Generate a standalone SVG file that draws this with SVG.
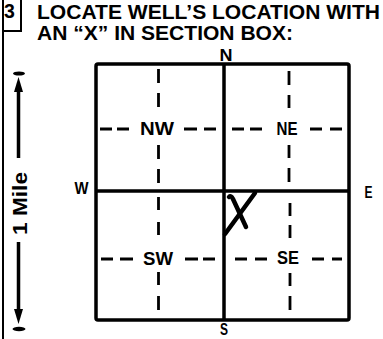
<svg xmlns="http://www.w3.org/2000/svg" width="383" height="339" viewBox="0 0 383 339">
  <style>
    .hdr { font-family: "Liberation Sans", Arial, sans-serif; font-weight: bold; font-size: 19.5px; fill: #000; }
    .quad { font-family: "Liberation Sans", Arial, sans-serif; font-weight: bold; font-size: 18px; fill: #000; text-anchor: middle; }
    .dir { font-family: "Liberation Sans", Arial, sans-serif; font-weight: bold; font-size: 16px; fill: #000; text-anchor: middle; }
    .frame { fill: none; stroke: #000; stroke-width: 3.5; stroke-linejoin: round; }
    .thin { fill: none; stroke: #000; stroke-width: 2; }
    .dash { fill: none; stroke: #000; stroke-width: 2.8; stroke-linecap: butt; }
  </style>
  <rect width="383" height="339" fill="#fff"/>

  <g id="header">
    <path class="thin" d="M3,0 V339 M21,0 V31 H3"/>
    <text class="hdr" x="4" y="18">3</text>
    <text class="hdr" x="37" y="19" textLength="343" lengthAdjust="spacingAndGlyphs">LOCATE WELL’S LOCATION WITH</text>
    <text class="hdr" x="37" y="40" textLength="256" lengthAdjust="spacingAndGlyphs">AN “X” IN SECTION BOX:</text>
  </g>

  <g id="scale">
    <path d="M18.5,88 V158 M18.5,242 V312" stroke="#000" stroke-width="3.5" fill="none"/>
    <path d="M18.5,77 L23,92 L14,92 Z" fill="#000"/>
    <path d="M18.5,324 L23,309 L14,309 Z" fill="#000"/>
    <ellipse cx="19" cy="73.5" rx="6" ry="2" fill="#000"/>
    <ellipse cx="19" cy="329" rx="6.5" ry="2.2" fill="#000"/>
    <text class="hdr" transform="translate(27,203.5) rotate(-90)" x="0" y="0" text-anchor="middle" font-size="18" textLength="63" lengthAdjust="spacingAndGlyphs">1 Mile</text>
  </g>

  <g id="section-box">
    <rect class="frame" x="96" y="64" width="253" height="256" rx="2"/>
    <path class="frame" d="M224,64 V320 M96,191 H349"/>
  </g>

  <g id="connectors">
    <path class="dash" d="M158.5,69 V83 M158.5,93 V107 M158.5,145 V159 M158.5,169 V183
      M100,129 H112 M117,129 H129 M184,129 H197 M204,129 H216"/>
    <path class="dash" d="M289,71 V85 M289,95 V108 M289,145 V158 M289,168 V182
      M232,129 H244 M250,129 H262 M310,129 H322 M330,129 H342"/>
    <path class="dash" d="M158.5,197 V210 M158.5,222 V235 M158.5,272 V285 M158.5,296 V310
      M101,259 H113 M120,259 H133 M185,259 H198 M203,259 H215"/>
    <path class="dash" d="M290,203 V216 M290,225 V238 M290,273 V286 M290,296 V310
      M235,259 H247 M255,259 H267 M312,259 H324 M332,259 H342"/>
  </g>

  <g id="NW"><text class="quad" x="157" y="135" textLength="34" lengthAdjust="spacingAndGlyphs">NW</text></g>
  <g id="NE"><text class="quad" x="287" y="135" textLength="21" lengthAdjust="spacingAndGlyphs">NE</text></g>
  <g id="SW"><text class="quad" x="158" y="265" textLength="30" lengthAdjust="spacingAndGlyphs">SW</text></g>
  <g id="SE"><text class="quad" x="288" y="264" textLength="22" lengthAdjust="spacingAndGlyphs">SE</text></g>

  <g id="compass">
    <text class="dir" x="226" y="61" textLength="13" lengthAdjust="spacingAndGlyphs">N</text>
    <text class="dir" x="224" y="335" textLength="8" lengthAdjust="spacingAndGlyphs">S</text>
    <text class="dir" x="81.5" y="194" textLength="14" lengthAdjust="spacingAndGlyphs">W</text>
    <text class="dir" x="368.5" y="198" textLength="8" lengthAdjust="spacingAndGlyphs">E</text>
  </g>

  <g id="well-mark">
    <path d="M229,197 Q231,195 233,199 L246,227" fill="none" stroke="#000" stroke-width="4.5" stroke-linecap="round"/>
    <path d="M255,193 L225,234" fill="none" stroke="#000" stroke-width="4.5" stroke-linecap="round"/>
  </g>
</svg>
